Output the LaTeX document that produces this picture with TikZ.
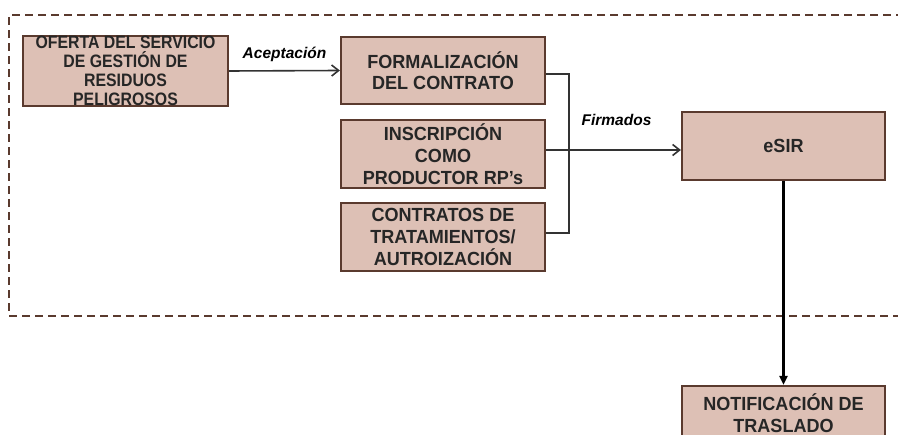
\documentclass[tikz,border=0pt]{standalone}
\usepackage{fontspec}
\setmainfont{Liberation Sans}
\newfontfamily\boxfont{Liberation Sans}[FakeStretch=0.95]
\newfontfamily\narrowboxfont{Liberation Sans}[FakeStretch=0.88]
\usetikzlibrary{arrows.meta}
\definecolor{boxfill}{HTML}{DDC0B5}
\definecolor{boxedge}{HTML}{5A3A2E}
\definecolor{txt}{HTML}{262626}
\definecolor{conn}{HTML}{333333}
\begin{document}
\begin{tikzpicture}[x=1bp,y=-1bp,
  proc/.style={draw=boxedge, line width=2.2bp, fill=boxfill, minimum width=204bp,
    minimum height=68bp, inner sep=0pt, align=center, text=txt,
    font=\boxfont\fontsize{19bp}{21.8bp}\selectfont\bfseries},
  lbl/.style={font=\fontsize{15.5bp}{18bp}\selectfont\bfseries\itshape, text=black, inner sep=0pt},
  link/.style={draw=conn, line width=1.6bp},
  frame/.style={draw=boxedge, line width=2bp, dash pattern=on 8bp off 5bp}]
\useasboundingbox (0,0) rectangle (898,435);
\clip (0,0) rectangle (898,435);
\coordinate (ftr) at (930,15);
\coordinate (ftl) at (9,15);
\coordinate (fbl) at (9,316);
\coordinate (fbr) at (930,316);
\draw[frame] (ftr) -- (ftl) -- (fbl) -- (fbr);
\node[proc, minimum width=205bp, font=\narrowboxfont\fontsize{18bp}{19bp}\selectfont\bfseries] (ofer) at (125.5,71)
  {OFERTA DEL SERVICIO\\DE GESTIÓN DE\\RESIDUOS\\PELIGROSOS};
\node[proc, minimum height=67bp, font=\boxfont\fontsize{19bp}{20.8bp}\selectfont\bfseries] (form) at (443,70.5) {FORMALIZACIÓN\\DEL CONTRATO};
\node[proc] (insc) at (443,154) {INSCRIPCIÓN\\COMO\\PRODUCTOR RP’s};
\node[proc] (cont) at (443,237) {CONTRATOS DE\\TRATAMIENTOS/\\AUTROIZACIÓN};
\node[proc, minimum width=203bp] (esir) at (783.5,146) {eSIR};
\node[proc, minimum width=203bp, minimum height=54bp] (notif) at (783.5,413) {NOTIFICACIÓN DE\\TRASLADO};
\coordinate (bx) at (569,150);
\draw[link, -{Straight Barb[length=7bp,width=11bp]}] (ofer.east) -- (form.west)
  node[lbl, midway, above=8bp] (acep) {Aceptación};
\draw[link] ([yshift=-3.5bp]form.east) -| (bx) |- ([yshift=4bp]cont.east);
\draw[link, -{Straight Barb[length=7bp,width=11bp]}] ([yshift=4bp]insc.east) -- ([yshift=-4bp]esir.west)
  node[lbl, midway, above=24bp, xshift=3bp] (firm) {Firmados};
\draw[black, line width=2.8bp, -{Triangle[length=9bp,width=8bp]}] (esir.south) -- (notif.north);
\end{tikzpicture}
\end{document}
